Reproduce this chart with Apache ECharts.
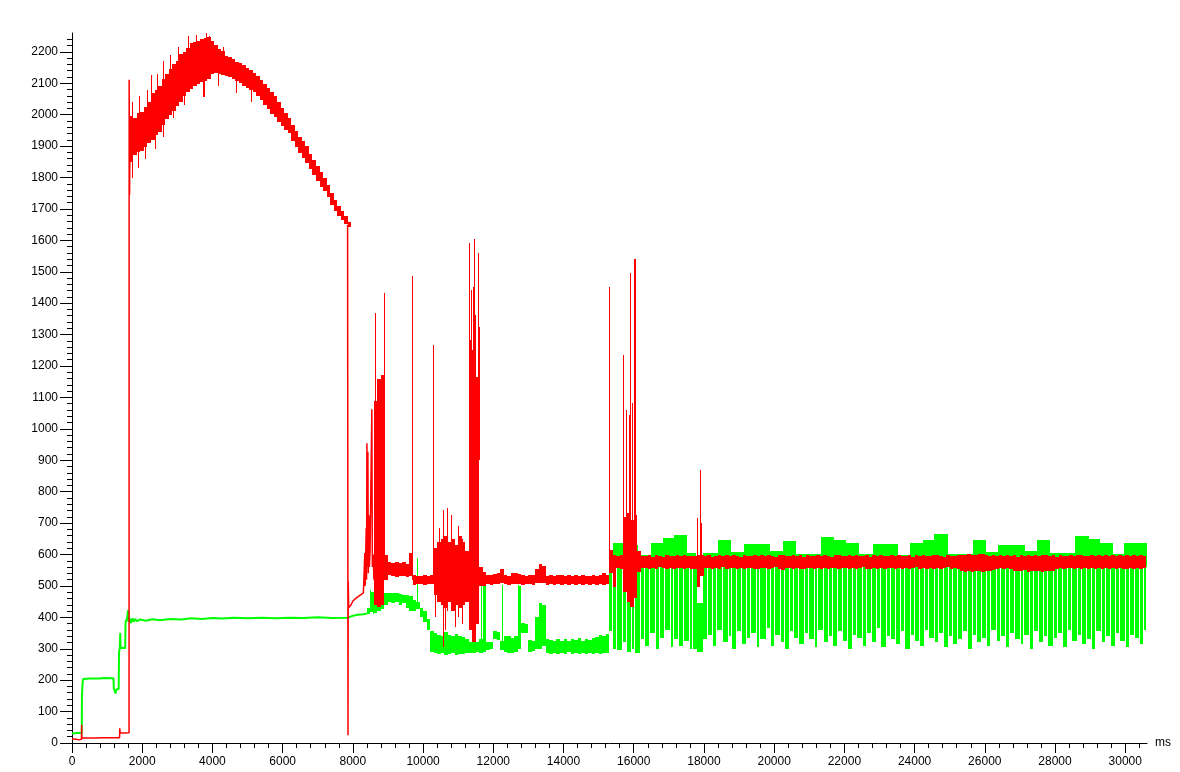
<!DOCTYPE html>
<html>
<head>
<meta charset="utf-8">
<script src="https://cdn.jsdelivr.net/npm/echarts@6/dist/echarts.min.js"></script>
<style>html,body{margin:0;padding:0;background:#fff}#c{width:1180px;height:772px}</style>
</head>
<body>
<div id="c"></div>
<script>
// ---------- axes ----------
const X_MAX = 30620, Y_MAX = 2260;
const xTickValues = [0,2000,4000,6000,8000,10000,12000,14000,16000,18000,20000,22000,24000,26000,28000,30000];
const yTickValues = [0,100,200,300,400,500,600,700,800,900,1000,1100,1200,1300,1400,1500,1600,1700,1800,1900,2000,2100,2200];

// ---------- green signal ----------
const greenTrace = [[0,30],[150,32],[278,32],[283,150],[295,175],[305,196],[320,204],[500,205],[520,208],[540,204],[800,205],[900,207],[910,204],[1180,206],[1192,174],[1220,168],[1240,158],[1260,170],[1330,172],[1340,290],[1360,300],[1375,350],[1385,302],[1515,302],[1525,385],[1560,393],[1590,390],[1600,423],[1610,385],[1640,396],[1680,382],[1720,397],[1760,386],[1800,395],[1850,388],[1950,393],[2100,389],[2300,394],[2500,391],[2800,395],[3100,393],[3400,397],[3700,395],[4000,398],[4300,396],[4600,399],[5000,397],[5400,399],[5800,397],[6200,399],[6600,398],[7000,400],[7400,398],[7860,399],[7870,404],[8000,405],[8150,408],[8300,410],[8400,412]];
const greenBandStart = 8400, greenBandStep = 100;
const greenBandLo = [410,418,415,420,425,440,450,445,450,440,445,430,420,420,425,400,385,360,290,285,282,285,280,283,285,280,284,282,286,288,285,290,286,290,296,298,330,328,296,290,286,288,290,300,350,350,290,292,300,300,310,
  285,283,288,282,286,284,289,283,287,282,286,284,288,283,286,284,288,285];
const greenBandHi = [430,480,470,485,465,478,478,476,478,475,472,470,468,455,450,430,420,395,355,350,345,340,352,345,340,348,342,338,330,322,320,322,330,500,322,320,355,352,325,340,340,335,340,500,381,378,328,325,400,445,440,
  330,328,325,332,326,330,324,331,327,333,325,330,328,334,338,345,342,348];
const greenSpikes = [[8500,420,487],[8560,410,480],[8650,415,490],[9833,430,589],[11655,290,503],[12260,300,502],[12700,300,502],[12740,340,457]];
// drop-out comb after 15300 ms: tooth start times and lowest value of each tooth
const greenCombTop = 566;
const greenCombAX = [15300,15420,15530,15700,15810,15960,16050,16220,16330,16470,16640,16740,16880,17050,17150,17290,17420,17600,17700];
const greenCombALo = [355,300,296,320,290,300,285,330,310,350,300,335,360,305,330,310,325,300];
const greenCombBX = [18000,18110,18270,18380,18530,18700,18790,18940,19080,19240,19350,19500,19610,19790,19900,20030,20190,20300,20460,20570,
  20720,20880,20990,21150,21260,21420,21560,21670,21830,21950,22100,22240,22350,22520,22640,22780,22930,23040,23200,23330,
  23460,23610,23720,23890,24000,24150,24290,24400,24570,24690,24830,24980,25090,25250,25370,25510,25660,25770,25930,26050,
  26190,26340,26450,26610,26730,26870,27020,27130,27290,27410,27550,27700,27810,27970,28090,28230,28380,28490,28650,28770,
  28910,29060,29170,29330,29450,29590,29740,29850,30010,30130,30270,30420,30530,30620];
const greenCombBLo = [330,345,310,360,320,340,300,355,315,335,350,305,330,365,310,345,320,300,355,335,
  315,350,330,305,360,320,340,310,355,325,300,345,335,310,350,320,365,305,340,330,
  315,355,300,345,325,310,360,335,320,350,305,340,315,330,355,300,345,320,335,310,
  360,325,340,305,350,330,315,345,300,355,320,340,310,335,350,305,360,325,345,315,
  330,300,355,320,340,310,350,325,305,345,335,315,360];
const greenCombExtra = [[17700,17790,300,566],[17790,17960,290,445],[17960,18000,330,566]];
const greenPlateaus = [[15300,15420,609],[15420,15690,636],[15690,16110,630],[16110,16480,598],[16480,16820,638],[16820,17160,652],[17160,17510,662],[17510,17775,606],[17960,18390,604],[18390,18775,645],[18775,19150,609],[19150,19890,632],[19890,20265,612],[20265,20620,643],[20620,21335,603],[21335,21715,657],[21715,22045,646],[22045,22425,636],[22425,22805,602],[22805,23535,632],[23535,23880,600],[23880,24230,636],[24230,24560,646],[24560,24940,664],[24940,25670,602],[25670,26030,646],[26030,26390,607],[26390,27140,630],[27140,27485,610],[27485,27865,646],[27865,28575,605],[28575,28955,659],[28955,29280,650],[29280,29640,638],[29640,29970,602],[29970,30620,636]];
const greenPlateauBase = 560;

// ---------- red signal ----------
const redTrace = [[0,13],[120,12],[200,10],[270,12],[276,58],[282,17],[600,16],[900,17],[1200,17],[1355,17],[1360,47],[1372,33],[1500,32],[1625,33],[1628,2111],[1640,1745],[1650,1900],'-',
  [7850,1650],[7858,1645],[7862,25],[7868,514],[7880,430],[7950,440],[8000,452],[8100,462],[8200,470],[8300,478],[8330,480],[8340,605],[8350,500],[8380,684],[8390,520],[8400,954],[8410,560],[8428,927],[8440,540],[8457,726],[8470,560],[8490,610],[8541,1062],[8555,560],[8580,600],[8600,520]];
// hump, 100 ms bins from 1650 ms
const redHumpStart = 1650, redHumpStep = 100;
const redHumpHi = [1995,1990,2005,2010,2025,2040,2068,2080,2090,2115,2128,2145,2160,2170,2192,2198,2212,2228,2232,2236,2240,2244,2248,2236,2222,2208,2202,2188,2184,2176,2168,2166,2158,2150,2142,2133,2124,2110,2097,2084,2073,2058,2041,2022,2006,1990,1967,1947,1929,1915,1899,1876,1856,1836,1816,1799,1776,1751,1729,1710,1694,1676,1657];
const redHumpLo = [1850,1872,1880,1885,1898,1910,1920,1935,1945,1968,1985,1998,2012,2028,2040,2058,2072,2082,2092,2098,2105,2108,2115,2128,2132,2130,2126,2124,2119,2115,2108,2102,2092,2086,2080,2071,2059,2046,2032,2017,2003,1993,1976,1963,1951,1941,1917,1897,1877,1862,1846,1827,1807,1788,1771,1756,1737,1714,1694,1678,1664,1653,1644];
// middle section, 100 ms bins from 8600 ms
const redMidStart = 8600, redMidStep = 100;
const redMidLo = [440,434,440,520,535,530,528,532,530,528,530,503,505,506,504,505,506,470,450,440,430,450,420,440,430,440,450,360,320,380,500,500,505,503,506,505,508,505,504,506,505,507,503,505,506,504,508,510,508,503,505,504,506,503,505,504,506,503,505,504,506,503,505,504,506,503,505];
const redMidHi = [1090,1160,1170,600,575,572,576,573,575,570,605,535,533,532,535,530,534,620,640,650,660,640,650,630,660,640,610,1283,1250,1166,560,545,535,535,538,540,555,535,533,540,541,538,535,533,536,534,555,570,565,533,535,532,536,534,531,536,533,535,532,536,533,531,535,532,536,540,535];
// late section, 100 ms bins from 15300 ms
const redLateStart = 15300, redLateStep = 100;
const redLateHi = [613,598,596,598,720,732,710,725,610,596,594,598,592,597,595,593,598,596,594,597,
  595,598,594,596,596,600,598,595,597,593,596,598,594,597,595,599,596,593,597,595,
  596,598,594,597,595,599,596,593,597,598,594,596,598,595,597,593,599,596,594,597,
  595,598,596,593,597,599,594,596,598,595,597,594,596,599,593,597,595,598,596,594,
  597,595,598,594,596,599,593,597,595,598,596,594,597,599,595,593,598,596,594,597,
  600,598,602,599,597,601,603,598,596,599,594,597,595,598,596,599,593,597,595,598,
  596,599,594,597,598,595,597,593,599,596,594,598,595,597,599,594,596,598,595,597,
  594,598,596,599,595,597,594,598,596,599,595,597,596];
const redLateLo = [540,495,557,555,480,450,433,460,545,556,558,554,557,555,559,556,553,557,555,558,
  556,554,558,555,553,495,530,556,558,554,557,555,559,553,556,558,554,557,555,556,
  557,555,553,558,556,554,557,559,555,552,556,558,554,557,555,553,558,556,554,557,
  555,558,554,556,557,553,556,558,555,557,554,556,559,555,553,557,555,558,554,556,
  556,554,558,555,557,553,556,559,554,557,555,558,553,556,554,557,559,555,556,553,
  548,545,547,544,546,549,545,547,548,550,555,557,554,556,553,547,546,548,550,545,
  547,546,548,545,549,547,546,555,557,554,556,558,553,556,555,557,554,556,553,557,
  555,557,554,556,553,557,555,554,556,553,557,555,556];
const redSpikes = [
  [1700,1900,2040],[1720,1800,1950],[1880,1830,1950],[1900,1950,2060],[2080,1860,1980],[2130,1950,2080],[2240,1950,2127],[2350,1890,2000],[2420,2000,2130],
  [2600,1930,2170],[2780,2080,2190],[2880,1990,2080],[3020,2100,2215],[3200,2030,2120],[3300,2120,2250],[3520,2150,2255],[3745,2057,2150],[3826,2200,2259],
  [3900,2150,2250],[4150,2090,2170],[4300,2150,2215],[4680,2070,2140],[5100,2040,2100],
  [8627,700,1368],[8874,550,1432],[9680,520,1487],[10278,520,1267],
  [10350,400,600],[10450,450,683],[10563,307,742],[10620,360,600],[10677,420,747],[10800,450,726],[10896,370,600],[10990,400,690],[11120,380,650],
  [11303,900,1591],[11370,900,1442],[11417,900,1453],[11445,900,1604],[11485,900,1363],[11560,900,1559],[11588,900,1325],
  [15290,540,1453],[15687,560,1235],[15783,600,1060],[15858,600,1045],[15906,600,1497],[15944,600,1082],[16021,600,1541],
  [17795,560,715],[17900,580,869],[17928,580,700]];

// ---------- build series items ----------
const SPIKE_W = 30;
function gridBins(start, step, lo, hi) {
  const out = [];
  lo.forEach((l, i) => {
    if (l == null) return;
    const h = typeof hi === 'number' ? hi : hi[i];
    out.push([start + i * step, Math.min(start + (i + 1) * step, X_MAX), l, h]);
  });
  return out;
}
const edgeBins = (xs, lo, hi) => lo.map((l, i) => [xs[i], xs[i + 1], l, hi]);
const spikeBins = s => s.map(v => [v[0], v[0] + SPIKE_W, v[1], v[2]]);

const greenBinItems = [].concat(
  gridBins(greenBandStart, greenBandStep, greenBandLo, greenBandHi),
  spikeBins(greenSpikes),
  greenPlateaus.map(p => [p[0], p[1], greenPlateauBase, p[2]]),
  greenCombExtra
);
const greenCombItems = [].concat(
  edgeBins(greenCombAX, greenCombALo, greenCombTop),
  edgeBins(greenCombBX, greenCombBLo, greenCombTop)
);
const redBinItems = [].concat(
  gridBins(redHumpStart, redHumpStep, redHumpLo, redHumpHi),
  gridBins(redMidStart, redMidStep, redMidLo, redMidHi),
  gridBins(redLateStart, redLateStep, redLateLo, redLateHi),
  spikeBins(redSpikes)
);

function binRenderer(color, gap) {
  return function (params, api) {
    const a = api.coord([api.value(0), api.value(3)]);
    const b = api.coord([api.value(1), api.value(2)]);
    const x = Math.round(a[0]);
    const w = Math.max(1, Math.round(b[0]) - x - gap);
    const y = Math.round(a[1]);
    const h = Math.max(1, Math.round(b[1]) - y);
    return { type: 'rect', shape: { x: x, y: y, width: w, height: h }, style: { fill: color } };
  };
}
const GREEN = '#00ff00', RED = '#ff0000';
const FONT = 'Liberation Sans, Arial, sans-serif';
const plain = v => String(v);

const chart = echarts.init(document.getElementById('c'), null, { renderer: 'canvas' });
const binSeries = (data, color, gap) => ({
  type: 'custom', data: data, renderItem: binRenderer(color, gap),
  encode: { x: [0, 1], y: [2, 3] }, silent: true, animation: false, clip: true
});
const lineSeries = (data, color, width) => ({
  type: 'line', data: data, showSymbol: false, symbol: 'none', silent: true, animation: false,
  lineStyle: { color: color, width: width }, connectNulls: false
});

chart.setOption({
  animation: false,
  backgroundColor: '#ffffff',
  grid: { left: 72, right: 33, top: 33, bottom: 29, containLabel: false },
  xAxis: {
    type: 'value', min: 0, max: X_MAX, interval: 2000,
    name: 'ms', nameLocation: 'end', nameGap: 8,
    nameTextStyle: { color: '#000', fontSize: 12, fontFamily: FONT },
    axisLine: { show: true, onZero: false, lineStyle: { color: '#000', width: 1 } },
    axisTick: { show: true, length: 10, customValues: xTickValues, lineStyle: { color: '#000', width: 1 } },
    minorTick: { show: true, splitNumber: 5, length: 5, lineStyle: { color: '#000', width: 1 } },
    axisLabel: { customValues: xTickValues, formatter: plain, color: '#000', fontSize: 12, fontFamily: FONT, margin: 13 },
    splitLine: { show: false }
  },
  yAxis: {
    type: 'value', min: 0, max: Y_MAX, interval: 100,
    axisLine: { show: true, onZero: false, lineStyle: { color: '#000', width: 1 } },
    axisTick: { show: true, length: 12, customValues: yTickValues, lineStyle: { color: '#000', width: 1 } },
    minorTick: { show: true, splitNumber: 5, length: 5, lineStyle: { color: '#000', width: 1 } },
    axisLabel: { customValues: yTickValues, formatter: plain, color: '#000', fontSize: 12, fontFamily: FONT, margin: 14 },
    splitLine: { show: false }
  },
  series: [
    lineSeries(greenTrace, GREEN, 2),
    binSeries(greenCombItems, GREEN, 1),
    binSeries(greenBinItems, GREEN, 0),
    lineSeries(redTrace, RED, 1.5),
    binSeries(redBinItems, RED, 0)
  ]
});
</script>
</body>
</html>
